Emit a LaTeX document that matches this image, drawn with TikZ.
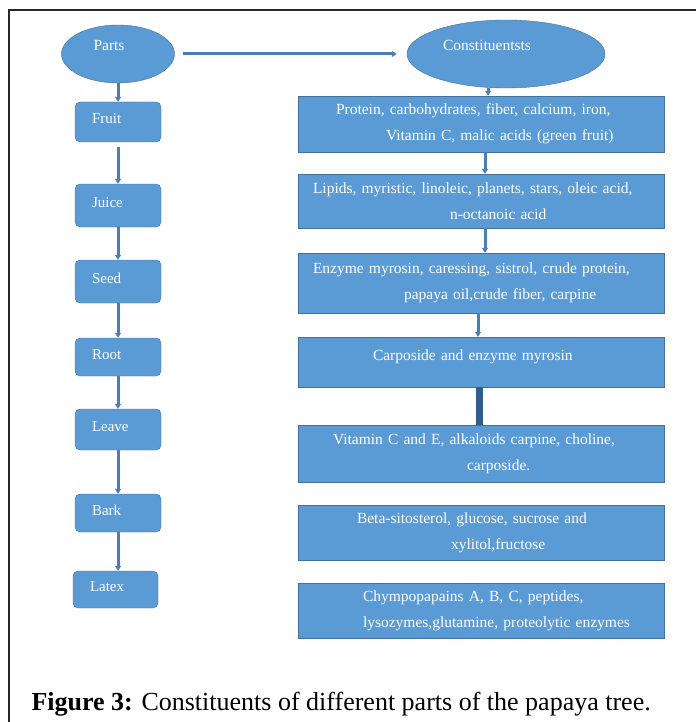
\documentclass[tikz,border=0pt]{standalone}
\usepackage{fontspec}
\setmainfont{Liberation Serif}
\usetikzlibrary{arrows.meta,shapes.geometric}
\definecolor{boxblue}{HTML}{5B9BD5}
\definecolor{edgeblue}{HTML}{41719C}
\definecolor{linkblue}{HTML}{4A7EBB}
\definecolor{barblue}{HTML}{2E5E8C}

\begin{document}
\begin{tikzpicture}[x=1pt,y=-1pt,
  headell/.style={ellipse,draw=edgeblue,fill=boxblue,inner sep=0pt,text=white,
    font=\fontsize{15.5}{18}\selectfont,text height=11pt,text depth=17pt},
  partbox/.style={draw=edgeblue,fill=boxblue,rounded corners=5pt,inner xsep=17pt,
    inner ysep=0pt,text width=52pt,align=left,text=white,
    font=\fontsize{15}{18}\selectfont,text height=11pt,text depth=7pt},
  consbox/.style={draw=edgeblue,fill=boxblue,inner xsep=10pt,inner ysep=0pt,
    minimum height=55pt,text width=346pt,align=left,text=white,
    font=\fontsize{15.5}{26}\selectfont},
  link/.style={draw=linkblue,line width=3pt,-{Triangle[length=5pt,width=6pt]}},
  bar/.style={draw=barblue,line width=7pt}]
  \useasboundingbox (0,0) rectangle (696,722);
  \draw[line width=2.5pt,black!85] (9,722)--(9,10)--(696,10);

  % the two heads
  \node[headell,minimum width=113pt,minimum height=58pt] (parts) at (118,54)
    {Parts\hspace*{18pt}};
  \node[headell,minimum width=198pt,minimum height=68pt] (cons) at (506,54)
    {Constituentsts\hspace*{38pt}};
  \draw[link,shorten <=8pt,shorten >=10pt] (parts.east)--(cons.west);

  % parts of the tree
  \node[partbox,minimum height=40pt] (fruit) at (118,122) {Fruit};
  \node[partbox,minimum height=43pt] (juice) at (118,205.5) {Juice};
  \node[partbox,minimum height=43pt] (seed) at (118,281.5) {Seed};
  \node[partbox,minimum height=38pt] (root) at (118,357) {Root};
  \node[partbox,minimum height=41pt] (leave) at (118,429.5) {Leave};
  \node[partbox,minimum height=38pt] (bark) at (118,513) {Bark};
  \node[partbox,minimum height=37pt,text width=51pt] (latex) at (115.5,589.5) {Latex};

  \draw[link] (parts.south)--(fruit.north);
  \draw[link,shorten <=5pt] (fruit.south)--(juice.north);
  \draw[link] (juice.south)--(seed.north);
  \draw[link] (seed.south)--(root.north);
  \draw[link] (root.south)--(leave.north);
  \draw[link] (leave.south)--(bark.north);
  \draw[link] (bark.south)--(bark.south |- latex.north);

  % constituents, one box per part
  \node[consbox,minimum height=56pt] (c1) at (481,124)
    {\hspace*{28pt}Protein, carbohydrates, fiber, calcium, iron,\\
     \hspace*{78pt}Vitamin C, malic acids (green fruit)};
  \node[consbox,minimum height=54pt] (c2) at (481,201)
    {\hspace*{5pt}Lipids, myristic, linoleic, planets, stars, oleic acid,\\
     \hspace*{142pt}n-octanoic acid};
  \node[consbox,minimum height=60pt] (c3) at (481,283)
    {\hspace*{5pt}Enzyme myrosin, caressing, sistrol, crude protein,\\
     \hspace*{96pt}papaya oil,crude fiber, carpine};
  \node[consbox,minimum height=50pt,text depth=13pt] (c4) at (481,362)
    {\hspace*{65pt}Carposide and enzyme myrosin};
  \node[consbox,minimum height=57pt] (c5) at (481,453.5)
    {\hspace*{25pt}Vitamin C and E, alkaloids carpine, choline,\\
     \hspace*{159pt}carposide.};
  \node[consbox,minimum height=55pt] (c6) at (481,532.5)
    {\hspace*{49pt}Beta-sitosterol, glucose, sucrose and\\
     \hspace*{143pt}xylitol,fructose};
  \node[consbox,minimum height=55pt] (c7) at (481,610.5)
    {\hspace*{55pt}Chympopapains A, B, C, peptides,\\
     \hspace*{55pt}lysozymes,glutamine, proteolytic enzymes};

  \draw[link] (cons.-118)--(cons.-118 |- c1.north);
  \draw[link] ([xshift=4pt]c1.south)--([xshift=4pt]c2.north);
  \draw[link] ([xshift=4pt]c2.south)--([xshift=4pt]c3.north);
  \draw[link] ([xshift=-3pt]c3.south)--([xshift=-3pt]c4.north);
  \draw[bar] ([xshift=-2pt]c4.south)--([xshift=-2pt]c5.north);

  \node[anchor=base west,font=\fontsize{26}{30}\selectfont] (caption) at (28,710)
    {\textbf{Figure 3:} Constituents of different parts of the papaya tree.};
\end{tikzpicture}
\end{document}
